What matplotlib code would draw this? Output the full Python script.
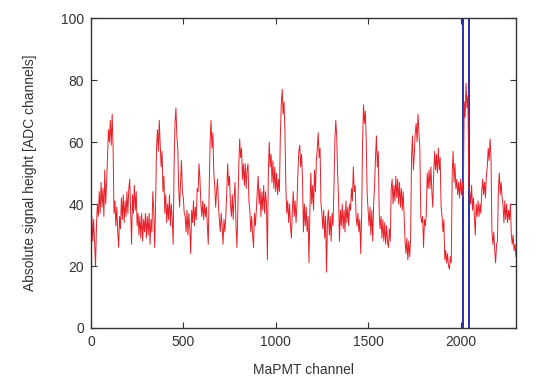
import numpy as np
import matplotlib
matplotlib.use('Agg')
import matplotlib.pyplot as plt

plt.rcParams['font.family'] = ['Liberation Sans', 'DejaVu Sans']

# signal height, one value every 5 MaPMT channels (0..2300)
channel_step = 5
signal = [
    30, 36, 28, 35, 27, 20, 33, 40, 36, 44, 37, 47, 39, 45, 36, 51, 40, 47, 56, 64,  # 0-95
    60, 67, 59, 69, 58, 37, 41, 33, 39, 31, 26, 36, 32, 42, 35, 43, 34, 41, 36, 44,  # 100-195
    37, 45, 48, 38, 27, 43, 37, 46, 38, 44, 33, 37, 30, 36, 29, 37, 28, 35, 31, 37,  # 200-295
    29, 36, 30, 37, 27, 35, 31, 44, 38, 26, 40, 58, 64, 57, 67, 59, 52, 57, 44, 49,  # 300-395
    37, 43, 34, 40, 35, 43, 33, 40, 35, 27, 52, 66, 71, 62, 58, 45, 39, 47, 54, 44,  # 400-495
    42, 37, 36, 31, 38, 30, 37, 32, 24, 38, 34, 41, 33, 39, 35, 45, 44, 53, 48, 40,  # 500-595
    36, 41, 35, 40, 36, 39, 33, 27, 45, 60, 67, 58, 63, 50, 46, 39, 44, 48, 40, 35,  # 600-695
    31, 37, 33, 27, 35, 31, 36, 44, 53, 46, 49, 40, 36, 43, 35, 42, 47, 33, 26, 38,  # 700-795
    52, 61, 55, 58, 48, 53, 46, 53, 45, 51, 53, 41, 38, 31, 36, 30, 26, 37, 33, 38,  # 800-895
    44, 49, 40, 45, 36, 44, 38, 46, 37, 44, 40, 22, 50, 60, 52, 56, 47, 54, 45, 52,  # 900-995
    44, 50, 43, 48, 44, 62, 72, 77, 69, 73, 63, 45, 37, 41, 34, 40, 33, 29, 38, 44,  # 1000-1095
    36, 41, 34, 40, 50, 57, 59, 52, 56, 48, 31, 40, 33, 39, 31, 36, 21, 38, 50, 40,  # 1100-1195
    46, 38, 51, 44, 54, 58, 63, 55, 58, 40, 37, 32, 38, 29, 36, 18, 34, 38, 30, 36,  # 1200-1295
    28, 37, 33, 45, 60, 67, 62, 50, 42, 28, 38, 33, 40, 32, 38, 31, 41, 34, 39, 33,  # 1300-1395
    40, 38, 45, 41, 52, 44, 46, 36, 33, 37, 31, 35, 24, 36, 60, 72, 66, 70, 60, 43,  # 1400-1495
    38, 33, 39, 30, 38, 28, 40, 46, 55, 62, 52, 57, 37, 32, 36, 29, 35, 28, 34, 27,  # 1500-1595
    33, 28, 26, 32, 28, 45, 48, 40, 46, 41, 49, 42, 48, 40, 47, 39, 45, 38, 44, 36,  # 1600-1695
    28, 24, 29, 22, 28, 23, 29, 55, 62, 51, 56, 63, 66, 60, 69, 63, 58, 36, 34, 36,  # 1700-1795
    26, 35, 33, 37, 50, 45, 51, 45, 52, 44, 39, 50, 57, 51, 56, 50, 58, 51, 55, 39,  # 1800-1895
    36, 31, 35, 22, 25, 21, 24, 20, 19, 23, 21, 50, 57, 47, 53, 45, 48, 43, 47, 42,  # 1900-1995
    48, 43, 47, 42, 73, 68, 79, 71, 75, 45, 44, 40, 46, 38, 42, 36, 30, 40, 36, 41,  # 2000-2095
    36, 40, 37, 44, 48, 43, 47, 42, 49, 52, 58, 54, 61, 55, 31, 27, 31, 25, 21, 27,  # 2100-2195
    28, 45, 50, 43, 47, 42, 40, 34, 41, 35, 40, 34, 38, 35, 40, 30, 27, 30, 25, 27,  # 2200-2295
    23,                                                                              # 2300
]
channels = np.arange(len(signal)) * channel_step

# selected channel window (blue markers)
window_edges = [2015, 2045]

fig = plt.figure(figsize=(5.38, 3.77), dpi=100)
ax = fig.add_axes([0.169, 0.130, 0.790, 0.822])

for edge in window_edges:
    ax.axvline(edge, color='#2b2fa8', lw=1.4, zorder=1)
ax.plot(channels, signal, color='#e8202a', lw=0.7, zorder=2)

ax.set_xlim(0, 2300)
ax.set_ylim(0, 100)
ax.set_xticks([0, 500, 1000, 1500, 2000])
ax.set_yticks([0, 20, 40, 60, 80, 100])
ax.tick_params(direction='in', top=True, right=True, length=4, width=0.8,
               labelsize=10, colors='#333333', pad=5)
for sp in ax.spines.values():
    sp.set_color('#333333')
    sp.set_linewidth(1.0)

ax.set_xlabel('MaPMT channel', fontsize=10, color='#333333', labelpad=10)
ax.set_ylabel('Absolute signal height [ADC channels]', fontsize=10,
              color='#333333', labelpad=17)

fig.savefig('out.png', dpi=100)
